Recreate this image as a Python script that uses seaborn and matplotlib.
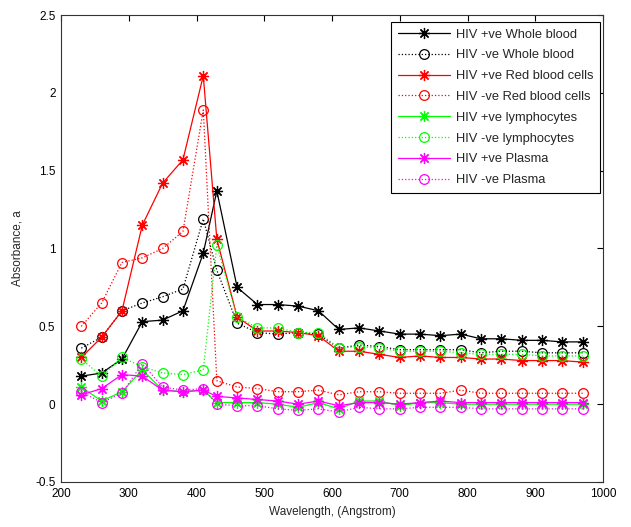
import numpy as np
import pandas as pd
import seaborn as sns
import matplotlib
matplotlib.use("Agg")
import matplotlib.pyplot as plt

wavelength = [230, 260, 290, 320, 350, 380, 410, 430, 460, 490, 520, 550, 580,
              610, 640, 670, 700, 730, 760, 790, 820, 850, 880, 910, 940, 970]

wb_pos = [0.18, 0.20, 0.29, 0.53, 0.54, 0.60, 0.97, 1.37, 0.75, 0.64, 0.64, 0.63, 0.60,
          0.48, 0.49, 0.47, 0.45, 0.45, 0.44, 0.45, 0.42, 0.42, 0.41, 0.41, 0.40, 0.40]
wb_neg = [0.36, 0.43, 0.60, 0.65, 0.69, 0.74, 1.19, 0.86, 0.52, 0.46, 0.45, 0.46, 0.45,
          0.36, 0.38, 0.37, 0.35, 0.35, 0.35, 0.35, 0.33, 0.34, 0.34, 0.33, 0.33, 0.33]
rbc_pos = [0.30, 0.43, 0.60, 1.15, 1.42, 1.57, 2.11, 1.06, 0.56, 0.47, 0.47, 0.46, 0.44,
           0.34, 0.34, 0.32, 0.30, 0.31, 0.30, 0.30, 0.29, 0.29, 0.28, 0.28, 0.28, 0.27]
rbc_neg = [0.50, 0.65, 0.91, 0.94, 1.00, 1.11, 1.89, 0.15, 0.11, 0.10, 0.08, 0.08, 0.09,
           0.06, 0.08, 0.08, 0.07, 0.07, 0.07, 0.09, 0.07, 0.07, 0.07, 0.07, 0.07, 0.07]
lym_pos = [0.11, 0.02, 0.08, 0.22, 0.09, 0.08, 0.09, 0.01, 0.01, 0.01, 0.00, -0.02, 0.01,
           -0.03, 0.02, 0.02, -0.01, 0.01, 0.01, 0.00, 0.00, 0.00, 0.00, 0.00, 0.00, 0.00]
lym_neg = [0.29, 0.18, 0.30, 0.24, 0.20, 0.19, 0.22, 1.02, 0.56, 0.49, 0.49, 0.46, 0.46,
           0.36, 0.37, 0.36, 0.34, 0.34, 0.34, 0.33, 0.32, 0.32, 0.32, 0.31, 0.31, 0.31]
pla_pos = [0.06, 0.10, 0.19, 0.18, 0.09, 0.08, 0.09, 0.05, 0.04, 0.03, 0.02, 0.00, 0.02,
           -0.01, 0.01, 0.01, 0.00, 0.01, 0.02, 0.01, 0.01, 0.01, 0.01, 0.01, 0.01, 0.01]
pla_neg = [0.08, 0.01, 0.07, 0.26, 0.11, 0.09, 0.10, 0.00, -0.01, -0.01, -0.03, -0.04, -0.03,
           -0.05, -0.02, -0.03, -0.03, -0.02, -0.02, -0.02, -0.03, -0.03, -0.03, -0.03, -0.03, -0.03]

series = [
    ("HIV +ve Whole blood", wb_pos, "black", "-", "star"),
    ("HIV -ve Whole blood", wb_neg, "black", ":", "circle"),
    ("HIV +ve Red blood cells", rbc_pos, "#ff0000", "-", "star"),
    ("HIV -ve Red blood cells", rbc_neg, "#ff0000", ":", "circle"),
    ("HIV +ve lymphocytes", lym_pos, "#00ff00", "-", "star"),
    ("HIV -ve lymphocytes", lym_neg, "#00ff00", ":", "circle"),
    ("HIV +ve Plasma", pla_pos, "#ff00ff", "-", "star"),
    ("HIV -ve Plasma", pla_neg, "#ff00ff", ":", "circle"),
]

sns.set_style("white")
plt.rcParams['font.family'] = ['Liberation Sans', 'DejaVu Sans']

fig = plt.figure(figsize=(6.31, 5.27), dpi=100)
ax = fig.add_axes([61 / 631, 1 - 482 / 527, 542 / 631, 467 / 527])

for name, vals, col, ls, mk in series:
    df = pd.DataFrame({"x": wavelength, "y": vals})
    if mk == "star":
        sns.lineplot(data=df, x="x", y="y", ax=ax, color=col, linestyle=ls,
                     linewidth=0.9, marker=(8, 2, 0), markersize=8,
                     markeredgecolor=col, markeredgewidth=0.9, label=name)
    else:
        sns.lineplot(data=df, x="x", y="y", ax=ax, color=col, linestyle=ls,
                     linewidth=0.9, marker="o", markersize=7, markerfacecolor="none",
                     markeredgecolor=col, markeredgewidth=0.9, label=name)

ax.set_xlim(200, 1000)
ax.set_ylim(-0.5, 2.5)
ax.set_xticks(np.arange(200, 1001, 100))
ax.set_yticks([-0.5, 0, 0.5, 1, 1.5, 2, 2.5])
ax.set_yticklabels(["-0.5", "0", "0.5", "1", "1.5", "2", "2.5"])
ax.tick_params(direction="in", top=True, right=True, length=4, width=0.8,
               labelsize=8.5, colors="black", pad=4)
for s in ax.spines.values():
    s.set_color("#333333")
    s.set_linewidth(0.8)

ax.set_xlabel("Wavelength, (Angstrom)", fontsize=8.5, labelpad=5)
ax.set_ylabel("Absorbance, a", fontsize=8.5, labelpad=8)

leg = ax.legend(loc="upper right", bbox_to_anchor=(600 / 631, 1 - 22 / 527),
                bbox_transform=fig.transFigure, fontsize=9.3, frameon=True,
                fancybox=False, edgecolor="black", framealpha=1, borderpad=0.5,
                labelspacing=0.68, handlelength=4.0, handletextpad=0.5,
                borderaxespad=0)
leg.get_frame().set_linewidth(0.8)

fig.savefig("out.png", dpi=100)
